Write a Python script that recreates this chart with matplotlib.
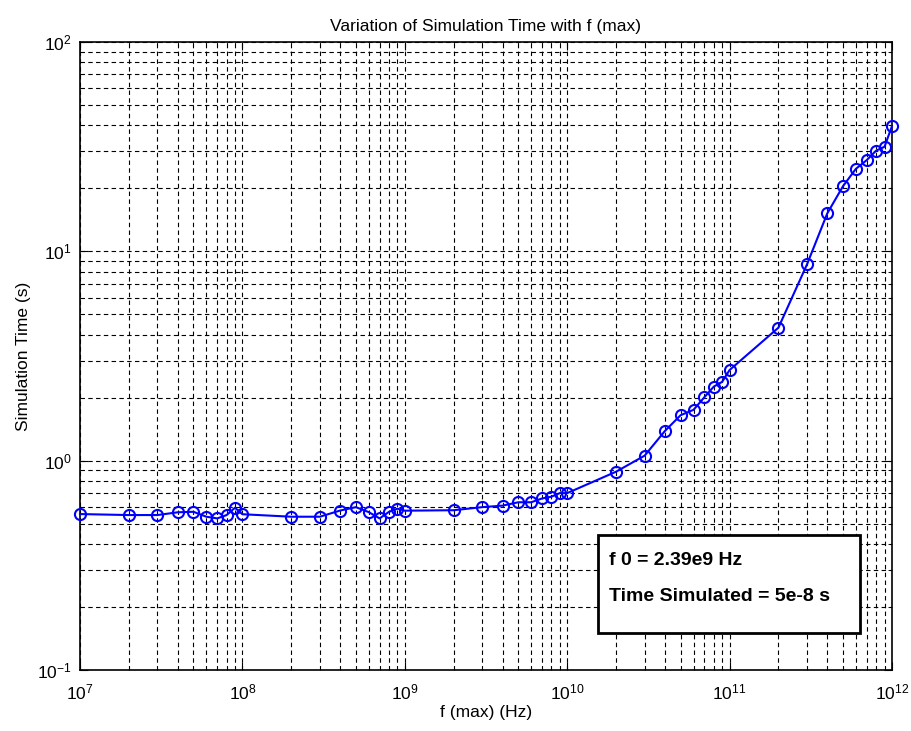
import matplotlib
matplotlib.use('Agg')
import matplotlib.pyplot as plt
from matplotlib.patches import Rectangle
import numpy as np

plt.rcParams['font.family'] = ['Liberation Sans', 'DejaVu Sans']
plt.rcParams['mathtext.default'] = 'regular'

# f (max) values in Hz: 1..9 x 10^k for k = 7..11, then 1e12
fmax = [1e7, 2e7, 3e7, 4e7, 5e7, 6e7, 7e7, 8e7, 9e7,
        1e8, 2e8, 3e8, 4e8, 5e8, 6e8, 7e8, 8e8, 9e8,
        1e9, 2e9, 3e9, 4e9, 5e9, 6e9, 7e9, 8e9, 9e9,
        1e10, 2e10, 3e10, 4e10, 5e10, 6e10, 7e10, 8e10, 9e10,
        1e11, 2e11, 3e11, 4e11, 5e11, 6e11, 7e11, 8e11, 9e11,
        1e12]
# simulation time in seconds
sim_time = [0.556, 0.55, 0.55, 0.567, 0.57, 0.54, 0.53, 0.55, 0.596,
            0.555, 0.54, 0.54, 0.578, 0.6, 0.568, 0.53, 0.57, 0.59,
            0.577, 0.58, 0.6, 0.61, 0.633, 0.633, 0.66, 0.673, 0.70,
            0.70, 0.886, 1.057, 1.387, 1.65, 1.75, 2.01, 2.26, 2.38,
            2.71, 4.32, 8.67, 15.2, 20.5, 24.8, 27.3, 30.3, 31.6,
            39.6]

info_lines = ['f 0 = 2.39e9 Hz', 'Time Simulated = 5e-8 s']

fig = plt.figure(figsize=(9.12, 7.31), dpi=100)
ax = fig.add_axes([0.0877, 0.0834, 0.8903, 0.8591])

ax.loglog(fmax, sim_time, color='#0000ff', linewidth=1.5, marker='o',
          markersize=8, markerfacecolor='none', markeredgecolor='#0000ff',
          markeredgewidth=1.5, clip_on=False, zorder=4)

ax.set_xlim(1e7, 1e12)
ax.set_ylim(1e-1, 1e2)

ax.grid(True, which='both', color='black', linestyle=(0, (4, 3)), linewidth=0.8)
ax.tick_params(which='both', direction='in', top=True, right=True, labelsize=12.5)
ax.tick_params(which='major', length=6)
ax.tick_params(which='minor', length=3)
ax.tick_params(axis='x', which='major', pad=9)
ax.tick_params(axis='y', which='major', pad=6)
for s in ax.spines.values():
    s.set_linewidth(1.2)

ax.set_title('Variation of Simulation Time with f (max)', fontsize=12.5, pad=8)
ax.set_xlabel('f (max) (Hz)', fontsize=12.5, labelpad=2)
ax.set_ylabel('Simulation Time (s)', fontsize=12.5, labelpad=4)

# annotation box
ax.add_patch(Rectangle((0.638, 0.059), 0.323, 0.156, transform=ax.transAxes,
                       facecolor='white', edgecolor='black', linewidth=2, zorder=5))
ax.text(0.651, 0.174, info_lines[0], transform=ax.transAxes, fontsize=14,
        fontweight='bold', va='center', zorder=6)
ax.text(0.651, 0.117, info_lines[1], transform=ax.transAxes, fontsize=14,
        fontweight='bold', va='center', zorder=6)

fig.savefig('out.png', dpi=100)
